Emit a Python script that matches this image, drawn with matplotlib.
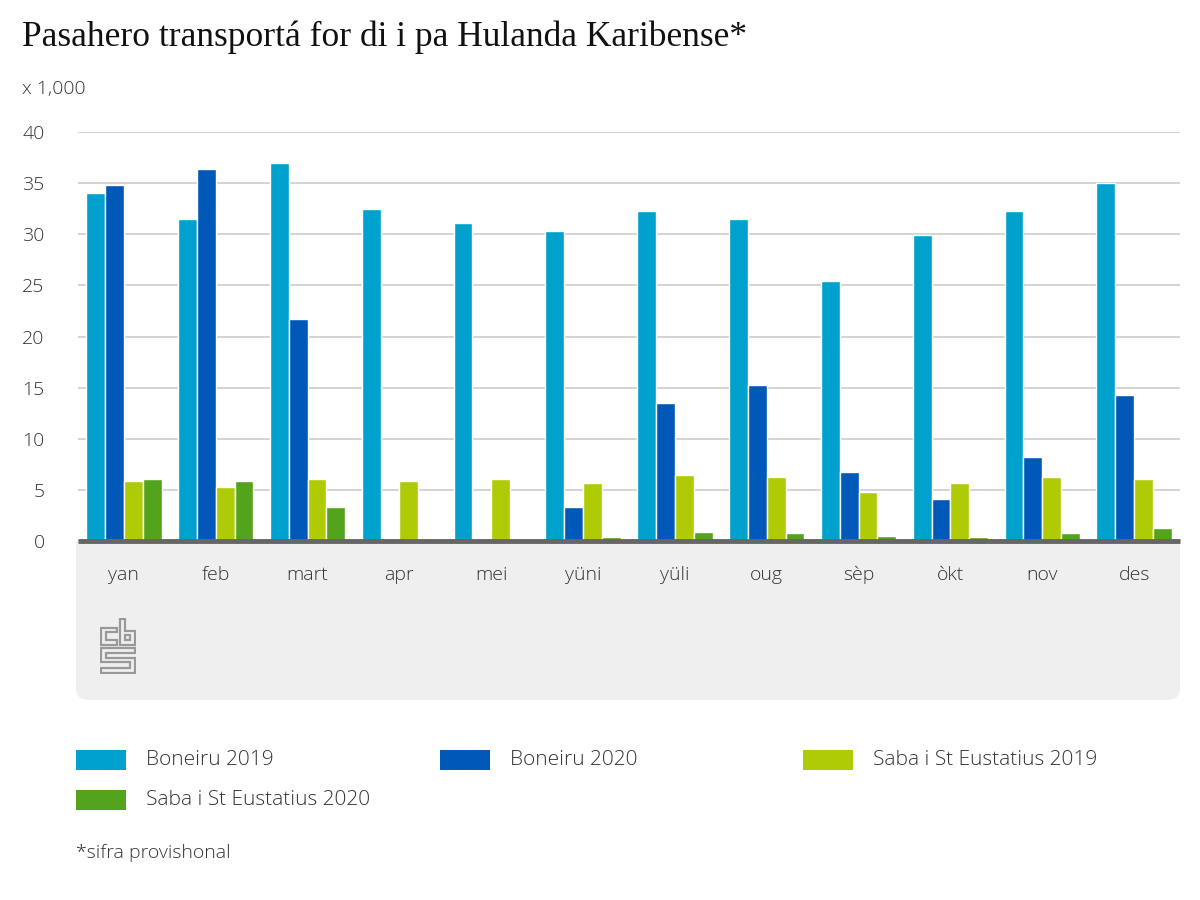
import numpy as np
import matplotlib
matplotlib.use('Agg')
import matplotlib.pyplot as plt
from matplotlib.patches import FancyBboxPatch, Rectangle, Polygon

# data (x 1,000 passengers)
months = ['yan', 'feb', 'mart', 'apr', 'mei', 'yüni', 'yüli', 'oug', 'sèp', 'òkt', 'nov', 'des']
boneiru_2019 = [34.0, 31.5, 37.0, 32.5, 31.1, 30.3, 32.3, 31.5, 25.4, 29.9, 32.3, 35.0]
boneiru_2020 = [34.8, 36.4, 21.7, 0.0, 0.2, 3.3, 13.5, 15.3, 6.7, 4.1, 8.2, 14.3]
saba_2019 = [5.9, 5.3, 6.1, 5.9, 6.1, 5.7, 6.5, 6.3, 4.8, 5.7, 6.3, 6.1]
saba_2020 = [6.1, 5.9, 3.3, 0.0, 0.0, 0.4, 0.9, 0.8, 0.5, 0.4, 0.8, 1.3]

series = [boneiru_2019, boneiru_2020, saba_2019, saba_2020]
labels = ['Boneiru 2019', 'Boneiru 2020', 'Saba i St Eustatius 2019', 'Saba i St Eustatius 2020']
colors = ['#00a1cd', '#0058b8', '#afcb05', '#53a31d']

yticks = [0, 5, 10, 15, 20, 25, 30, 35, 40]

plt.rcParams['font.family'] = ['Open Sans', 'DejaVu Sans']
plt.rcParams['font.weight'] = 'light'
txt = '#333333'
fs = 14

W, H = 1200, 900
fig = plt.figure(figsize=(12, 9), dpi=100)

def fx(px):
    return px / W

def fy(py):
    return 1 - py / H

# grey band behind month labels
band = FancyBboxPatch((fx(76), fy(700)), fx(1180) - fx(76), fy(541) - fy(700),
                      boxstyle='round,pad=0,rounding_size=0.012',
                      transform=fig.transFigure, facecolor='#efefef', edgecolor='none', zorder=0)
fig.patches.append(band)
# square off top corners
fig.patches.append(Rectangle((fx(76), fy(600)), fx(1180) - fx(76), fy(541) - fy(600),
                             transform=fig.transFigure, facecolor='#efefef', edgecolor='none', zorder=0))

ax = fig.add_axes([fx(78), fy(541), fx(1180) - fx(78), fy(132) - fy(541)])
ax.set_facecolor('none')
ax.set_zorder(2)

x = np.arange(len(months))
slot = 0.205
for i, (vals, lab, col) in enumerate(zip(series, labels, colors)):
    ax.bar(x + (i - 1.5) * slot, vals, width=slot, color=col, edgecolor='white',
           linewidth=1.0, label=lab, zorder=3)

ax.set_xlim(-0.5, len(months) - 0.5)
ax.set_ylim(0, 40)
ax.set_yticks(yticks)
ax.set_yticklabels([str(t) for t in yticks], fontsize=fs, color=txt)
ax.yaxis.grid(True, color='#cccccc', linewidth=1.2, zorder=0)
ax.set_xticks(x)
ax.set_xticklabels(months, fontsize=fs, color=txt)
ax.tick_params(axis='x', length=0, pad=18)
ax.tick_params(axis='y', length=0, pad=24)
for s in ['top', 'right', 'left']:
    ax.spines[s].set_visible(False)
ax.spines['bottom'].set_color('#666666')
ax.spines['bottom'].set_linewidth(3.5)
ax.spines['bottom'].set_capstyle('butt')
ax.spines['bottom'].set_zorder(5)

# title and unit
fig.text(fx(22), fy(37), 'Pasahero transportá for di i pa Hulanda Karibense*',
         fontsize=25.5, family='Liberation Serif', weight='normal', color='#111111',
         va='center', ha='left')
fig.text(fx(22), fy(89), 'x 1,000', fontsize=fs, color=txt, va='center', ha='left')

# cbs logo
lax = fig.add_axes([fx(100), fy(674), fx(136) - fx(100), fy(618) - fy(674)])
lax.set_zorder(3)
lax.set_xlim(-1, 37)
lax.set_ylim(57, -1)
lax.axis('off')
shapes = [
    [(20, 0), (25, 0), (25, 12), (36, 12), (36, 27), (20, 27)],
    [(25, 17), (31, 17), (31, 22), (25, 22)],
    [(17, 9), (0, 9), (0, 27), (17, 27), (17, 22), (5, 22), (5, 14), (17, 14)],
    [(0, 30), (36, 30), (36, 35), (5, 35), (5, 40), (36, 40), (36, 56), (0, 56),
     (0, 51), (31, 51), (31, 45), (0, 45)],
]
for pts in shapes:
    lax.add_patch(Polygon(pts, closed=True, fill=False, edgecolor='#999999', linewidth=1.6))

# legend
leg_pos = [(76, 760), (440, 760), (803, 760), (76, 800)]
for (lx, ly), lab, col in zip(leg_pos, labels, colors):
    fig.patches.append(Rectangle((fx(lx), fy(ly + 10)), fx(50), 20 / H,
                                 transform=fig.transFigure, facecolor=col, edgecolor='none'))
    fig.text(fx(lx + 70), fy(ly), lab, fontsize=15, color=txt, va='center', ha='left')

fig.text(fx(76), fy(853), '*sifra provishonal', fontsize=fs, color=txt, va='center', ha='left')

fig.savefig('out.png', dpi=100)
